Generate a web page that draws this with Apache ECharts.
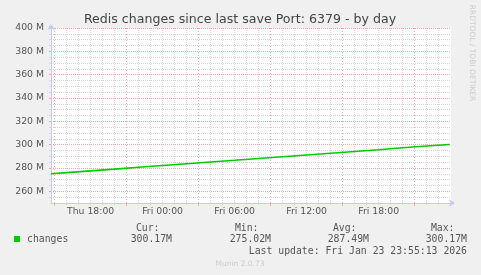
<!DOCTYPE html>
<html>
<head>
<meta charset="utf-8">
<script src="https://cdn.jsdelivr.net/npm/echarts@6/dist/echarts.min.js"></script>
<style>
html,body{margin:0;padding:0;background:#f0f0f0;}
#chart{width:481px;height:275px;}
</style>
</head>
<body>
<div id="chart"></div>
<script>
// ---- data (hours since Thu 00:00, value in millions) ----
const hours   = [14.70, 16, 18, 20, 22, 24, 26, 28, 30, 32, 34, 36, 38, 40, 42, 44, 46, 47.92];
const changes = [275.02, 276.0, 277.5, 279.0, 280.6, 282.1, 283.6, 285.1, 286.6, 288.2, 289.7, 291.2, 292.7, 294.2, 295.7, 297.3, 298.8, 300.17];

const xLabelHours = [18, 24, 30, 36, 42];
const xLabelTexts = ['Thu 18:00', 'Fri 00:00', 'Fri 06:00', 'Fri 12:00', 'Fri 18:00'];
const xMajorHours = [15, 21, 27, 33, 39, 45];
const xMinorHours = [16,17,18,19,20,22,23,24,25,26,28,29,30,31,32,34,35,36,37,38,40,41,42,43,44,46,47];

const yMajor = [260, 280, 300, 320, 340, 360, 380, 400];
const yMinor = [255, 265, 270, 275, 285, 290, 295, 305, 310, 315, 325, 330, 335, 345, 350, 355, 365, 370, 375, 385, 390, 395];

const title = 'Redis changes since last save Port: 6379 - by day';
const seriesName = 'changes';
const statHeads = ['Cur:', 'Min:', 'Avg:', 'Max:'];
const statValues = ['300.17M', '275.02M', '287.49M', '300.17M'];
const lastUpdate = 'Last update: Fri Jan 23 23:55:13 2026';
const footer = 'Munin 2.0.73';
const sideText = 'RRDTOOL / TOBI OETIKER';

// ---- styles ----
const RED = '#efaaaa';
const GRAY = '#d6d6d6';
const AXIS = '#c6cbf5';
const SANS = 'DejaVu Sans';
const MONO = 'DejaVu Sans Mono';

const chart = echarts.init(document.getElementById('chart'), null, {renderer: 'canvas'});

const statX = [172, 271, 369, 467];
const graphics = [];
statHeads.forEach((h, i) => {
  graphics.push({type: 'text', x: statX[i] - 12.5, y: 228, style: {text: h, font: '9.8px "' + MONO + '"', fill: '#555', textAlign: 'right', textVerticalAlign: 'middle'}});
  graphics.push({type: 'text', x: statX[i], y: 239.5, style: {text: statValues[i], font: '9.8px "' + MONO + '"', fill: '#555', textAlign: 'right', textVerticalAlign: 'middle'}});
});
graphics.push({type: 'text', x: 467, y: 251.8, style: {text: lastUpdate, font: '9.8px "' + MONO + '"', fill: '#555', textAlign: 'right', textVerticalAlign: 'middle'}});
graphics.push({type: 'text', x: 240, y: 264.5, style: {text: footer, font: '7.5px "' + SANS + '"', fill: '#cccccc', textAlign: 'center', textVerticalAlign: 'middle'}});
graphics.push({type: 'text', x: 472, y: 53, rotation: -Math.PI / 2, style: {text: sideText, font: '7.5px "' + SANS + '"', fill: '#cccccc', textAlign: 'center', textVerticalAlign: 'middle'}});
graphics.push({type: 'text', x: 240, y: 20, style: {text: title, font: '12.6px "' + SANS + '"', fill: '#444', textAlign: 'center', textVerticalAlign: 'middle'}});

const option = {
  backgroundColor: '#f0f0f0',
  animation: false,
  grid: {left: 51, top: 28, width: 400, height: 175, show: true, backgroundColor: '#ffffff', borderWidth: 0},
  legend: {
    left: 14, top: 234, padding: 0, itemWidth: 6, itemHeight: 6, icon: 'rect',
    data: [seriesName],
    textStyle: {fontFamily: MONO, fontSize: 9.8, color: '#555', padding: [0, 0, 0, 2]}
  },
  xAxis: [
    {
      type: 'value', min: 14.70, max: 48.03,
      axisLine: {show: true, lineStyle: {color: AXIS, width: 1}, symbol: ['none', 'arrow'], symbolSize: [6, 6], symbolOffset: [0, 4]},
      axisTick: {show: true, length: 3, customValues: xMajorHours, lineStyle: {color: RED}},
      splitLine: {show: true, lineStyle: {color: RED, type: [1, 2], width: 1}},
      axisLabel: {
        show: true, customValues: xLabelHours, margin: 4,
        fontFamily: SANS, fontSize: 9.3, color: '#555',
        formatter: v => { const i = xLabelHours.indexOf(v); return i >= 0 ? xLabelTexts[i] : ''; }
      }
    },
    {
      type: 'value', min: 14.70, max: 48.03, position: 'bottom',
      axisLine: {show: false},
      axisTick: {show: true, length: 2, customValues: xMinorHours, lineStyle: {color: GRAY}},
      splitLine: {show: true, lineStyle: {color: GRAY, type: [1, 1], width: 1}},
      axisLabel: {show: false}
    }
  ],
  yAxis: [
    {
      type: 'value', min: 250, max: 400,
      axisLine: {show: true, lineStyle: {color: AXIS, width: 1}, symbol: ['none', 'arrow'], symbolSize: [6, 6], symbolOffset: [0, 4]},
      axisTick: {show: true, length: 2, customValues: yMajor, lineStyle: {color: RED}},
      splitLine: {show: true, lineStyle: {color: RED, type: [1, 1], width: 1}},
      axisLabel: {
        show: true, customValues: yMajor, margin: 7,
        fontFamily: SANS, fontSize: 9.3, color: '#555',
        formatter: v => v + ' M'
      }
    },
    {
      type: 'value', min: 250, max: 400, position: 'left',
      axisLine: {show: false},
      axisTick: {show: true, length: 2, customValues: yMinor, lineStyle: {color: GRAY}},
      splitLine: {show: true, lineStyle: {color: GRAY, type: [1, 1], width: 1}},
      axisLabel: {show: false}
    }
  ],
  series: [{
    name: seriesName,
    type: 'line',
    xAxisIndex: 0, yAxisIndex: 0,
    data: hours.map((h, i) => [h, changes[i]]),
    showSymbol: false,
    lineStyle: {color: '#00cc00', width: 1.6},
    itemStyle: {color: '#00cc00'},
    z: 5
  }],
  graphic: graphics
};
chart.setOption(option);
</script>
</body>
</html>
